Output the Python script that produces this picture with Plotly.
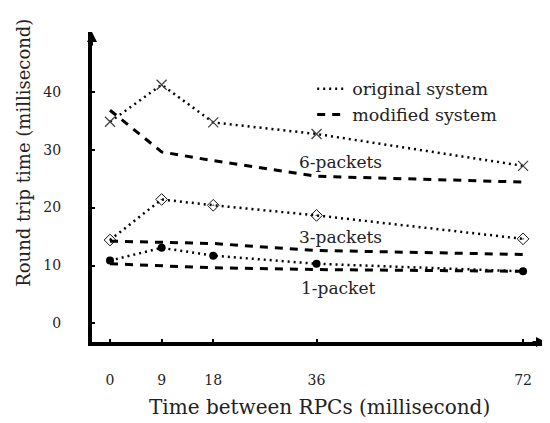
import plotly.graph_objects as go

x_vals = [0, 9, 18, 36, 72]
orig_6 = [34.8, 41.2, 34.7, 32.7, 27.2]
mod_6 = [36.8, 29.6, 28.1, 25.4, 24.4]
orig_3 = [14.4, 21.4, 20.4, 18.65, 14.6]
mod_3 = [14.2, 14.0, 13.8, 12.6, 11.9]
orig_1 = [10.85, 13.05, 11.7, 10.3, 9.0]
mod_1 = [10.3, 10.0, 9.6, 9.3, 9.0]

x_ticks = [0, 9, 18, 36, 72]
y_ticks = [0, 10, 20, 30, 40]
group_labels = ["6-packets", "3-packets", "1-packet"]
group_label_pos = [(40.1, 27.85), (40.1, 15.0), (39.7, 6.2)]
legend_names = ["original system", "modified system"]

FONT = "DejaVu Serif"
TXT = "#222222"
DOT = "2px,4px"
DASH = "8px,7px"

fig = go.Figure()

def orig_trace(y, symbol, size, color, lw):
    return go.Scatter(x=x_vals, y=y, mode="lines+markers", showlegend=False,
                      line=dict(color="black", width=2.5, dash=DOT),
                      marker=dict(symbol=symbol, size=size, color=color,
                                  line=dict(color=color, width=lw)))

def mod_trace(y):
    return go.Scatter(x=x_vals, y=y, mode="lines", showlegend=False,
                      line=dict(color="black", width=3, dash=DASH))

fig.add_trace(mod_trace(mod_6))
fig.add_trace(mod_trace(mod_3))
fig.add_trace(mod_trace(mod_1))
fig.add_trace(orig_trace(orig_6, "x-thin-open", 10, "#444444", 1.3))
fig.add_trace(orig_trace(orig_3, "diamond-open-dot", 9, "#111111", 1))
fig.add_trace(orig_trace(orig_1, "circle", 8, "black", 0))

# legend-only entries
fig.add_trace(go.Scatter(x=[None], y=[None], mode="lines", name=legend_names[0],
                         line=dict(color="black", width=2.5, dash=DOT)))
fig.add_trace(go.Scatter(x=[None], y=[None], mode="lines", name=legend_names[1],
                         line=dict(color="black", width=3, dash=DASH)))

for lab, (lx, ly) in zip(group_labels, group_label_pos):
    fig.add_annotation(x=lx, y=ly, xref="x", yref="y", text=lab, showarrow=False,
                       font=dict(family=FONT, size=17, color=TXT))

# axis titles
fig.add_annotation(x=-0.15, y=0.61, xref="paper", yref="paper", text="Round trip time (millisecond)",
                   textangle=-90, showarrow=False, xanchor="center", yanchor="middle",
                   font=dict(family=FONT, size=18, color=TXT))
fig.add_annotation(x=0.5, y=-0.21, xref="paper", yref="paper", text="Time between RPCs (millisecond)",
                   showarrow=False, xanchor="center", yanchor="middle",
                   font=dict(family=FONT, size=20, color=TXT))

# arrow heads at axis ends
fig.add_annotation(x=1.0, y=0, xref="paper", yref="paper", ax=-15, ay=0, text="",
                   showarrow=True, arrowhead=2, arrowsize=1, arrowwidth=2, arrowcolor="black")
fig.add_annotation(x=0, y=1.0, xref="paper", yref="paper", ax=0, ay=15, text="",
                   showarrow=True, arrowhead=2, arrowsize=1, arrowwidth=2, arrowcolor="black")

fig.update_layout(
    width=542, height=415,
    margin=dict(l=84, r=4, t=24, b=81),
    plot_bgcolor="white", paper_bgcolor="white",
    font=dict(family=FONT, size=14, color=TXT),
    legend=dict(x=0.485, y=0.875, xanchor="left", yanchor="top",
                bgcolor="rgba(0,0,0,0)", font=dict(family=FONT, size=17.5, color=TXT),
                itemwidth=30, tracegroupgap=0),
    xaxis=dict(range=[-3.14, 76.0], showgrid=False, zeroline=False, showline=True,
               linewidth=4, linecolor="black", ticks="inside", ticklen=3, tickwidth=2,
               tickcolor="black", tickvals=x_ticks, ticklabelstandoff=22,
               tickfont=dict(family=FONT, size=14, color=TXT)),
    yaxis=dict(range=[-3.2, 50.3], showgrid=False, zeroline=False, showline=True,
               linewidth=4, linecolor="black", ticks="inside", ticklen=3, tickwidth=2,
               tickcolor="black", tickvals=y_ticks, ticklabelstandoff=24,
               tickfont=dict(family=FONT, size=14, color=TXT)),
)

fig.write_html("out.html")
